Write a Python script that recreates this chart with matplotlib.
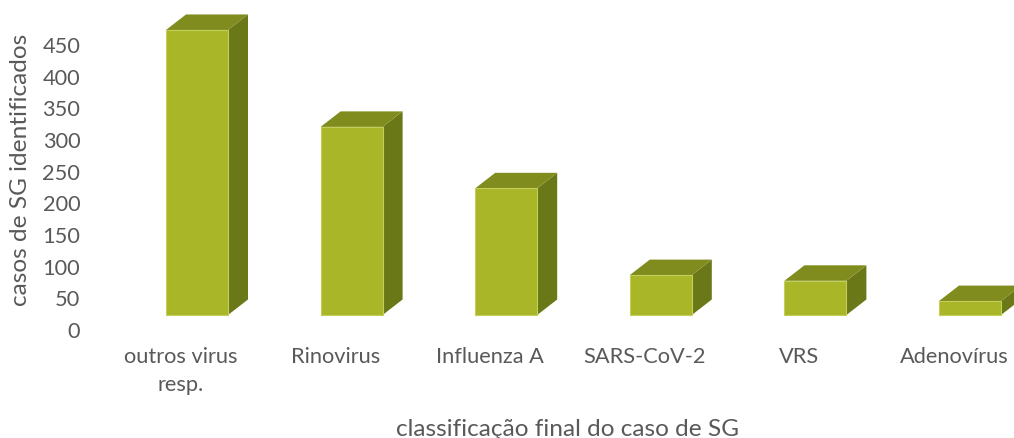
import matplotlib
matplotlib.use("Agg")
import matplotlib.pyplot as plt

categories = ["outros virus\nresp.", "Rinovirus", "Influenza A", "SARS-CoV-2", "VRS", "Adenovírus"]
values = [450, 297, 200, 63, 54, 22]
yticks = [0, 50, 100, 150, 200, 250, 300, 350, 400, 450]
ylabel = "casos de SG identificados"
xlabel = "classificação final do caso de SG"

plt.rcParams['font.family'] = ['Lato', 'DejaVu Sans']
TXT = '#595959'
FRONT = '#A9B628'
TOP = '#808C1D'
SIDE = '#6A7818'
EDGE = '#C3CF5A'

W, H = 1014, 439
fig = plt.figure(figsize=(W / 100, H / 100), dpi=100)
left_px, bottom_px = 90, 340
ax = fig.add_axes([left_px / W, (H - bottom_px) / H, (W - left_px) / W, bottom_px / H])

px_per_unit = 31.67 / 50
px_per_cat = 154.6
x0_px = 181  # pixel of category 0 center
ax.set_xlim((left_px - x0_px) / px_per_cat, (W - x0_px) / px_per_cat)
ax.set_ylim((330 - bottom_px) / px_per_unit, 330 / px_per_unit)

# 3D styling (in data units)
base = 14 / px_per_unit
off_left = -15 / px_per_cat
width = 62 / px_per_cat
dx = 20 / px_per_cat
dy = 15.5 / px_per_unit

for i, v in enumerate(values):
    xl = i + off_left
    xr = xl + width
    yb = base
    yt = base + v
    ax.fill([xr, xr + dx, xr + dx, xr], [yb, yb + dy, yt + dy, yt], color=SIDE, lw=0, clip_on=False)
    ax.fill([xl, xr, xr + dx, xl + dx], [yt, yt, yt + dy, yt + dy], color=TOP, lw=0, clip_on=False)
    ax.fill([xl, xr, xr, xl], [yb, yb, yt, yt], facecolor=FRONT, edgecolor=EDGE, lw=0.8, clip_on=False)

ax.set_yticks(yticks)
ax.set_yticklabels([str(t) for t in yticks], fontsize=15.7, color=TXT)
ax.set_xticks(range(len(categories)))
ax.set_xticklabels(categories, fontsize=15.7, color=TXT, linespacing=1.5)
ax.tick_params(axis='both', length=0)
ax.tick_params(axis='y', pad=7)
ax.tick_params(axis='x', pad=5)
for s in ax.spines.values():
    s.set_visible(False)
ax.patch.set_alpha(0)

fig.text(567 / W, (H - 430) / H, xlabel, fontsize=17.6, color=TXT, ha='center', va='center')
fig.text(21 / W, (H - 170) / H, ylabel, fontsize=17.6, color=TXT, ha='center', va='center', rotation=90)

fig.savefig("out.png", dpi=100, facecolor='white')
